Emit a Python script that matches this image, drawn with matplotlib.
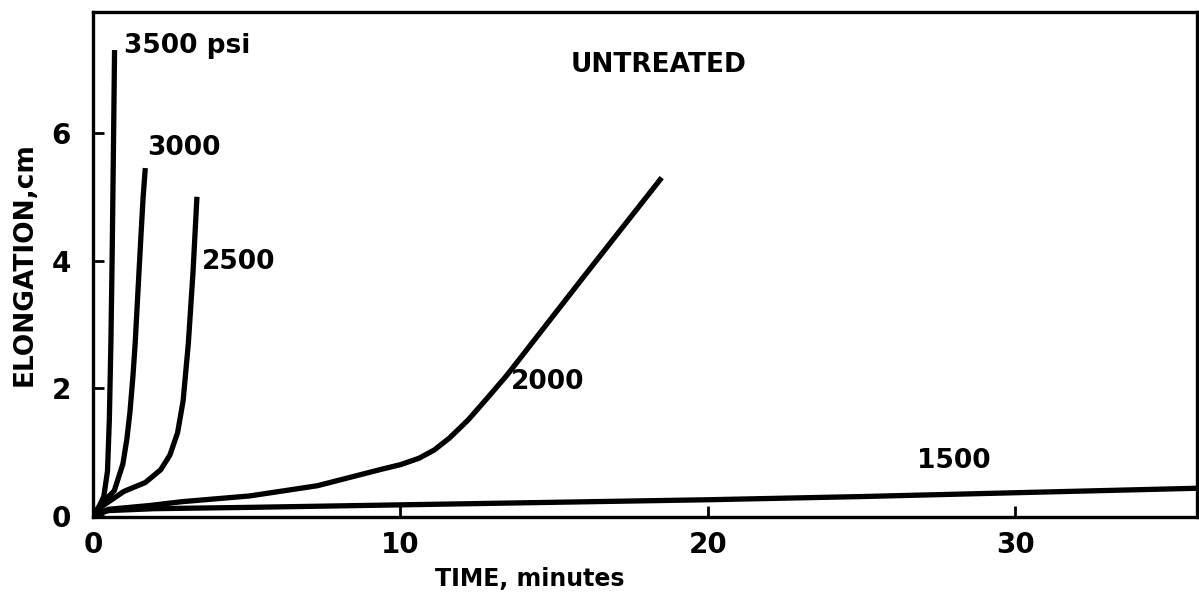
import matplotlib
matplotlib.use("Agg")
import matplotlib.pyplot as plt

# creep curves, untreated specimens (time in minutes, elongation in cm)
t_3500 = [0, 0.2, 0.35, 0.47, 0.53, 0.58, 0.62, 0.66, 0.7]
e_3500 = [0, 0.15, 0.3, 0.7, 1.5, 2.7, 4.0, 5.6, 7.3]

t_3000 = [0, 0.3, 0.69, 0.97, 1.1, 1.2, 1.3, 1.37, 1.47, 1.56, 1.63, 1.7]
e_3000 = [0, 0.2, 0.39, 0.81, 1.2, 1.62, 2.2, 2.7, 3.6, 4.4, 5.0, 5.45]

t_2500 = [0, 0.3, 1.0, 1.7, 2.2, 2.5, 2.75, 2.93, 3.1, 3.25, 3.38]
e_2500 = [0, 0.15, 0.38, 0.52, 0.72, 0.95, 1.3, 1.8, 2.7, 3.8, 5.0]

t_2000 = [0, 0.5, 1.85, 2.9, 5.1, 7.3, 9.4, 10.0, 10.6, 11.1, 11.6, 12.2, 12.8, 13.46, 16.0, 18.5]
e_2000 = [0, 0.1, 0.16, 0.22, 0.31, 0.47, 0.73, 0.8, 0.9, 1.03, 1.22, 1.5, 1.83, 2.2, 3.77, 5.3]

t_1500 = [0, 0.5, 2, 5, 10, 15, 20, 25, 30, 35.9]
e_1500 = [0, 0.08, 0.11, 0.13, 0.17, 0.21, 0.25, 0.3, 0.36, 0.43]

labels = ['3500 psi', '3000', '2500', '2000', '1500']
label_pos = [(1.0, 7.37), (1.75, 5.77), (3.55, 3.98), (13.6, 2.09), (26.8, 0.86)]

x_ticks = [0, 10, 20, 30]
y_ticks = [0, 2, 4, 6]

plt.rcParams['font.family'] = ['DejaVu Sans']
plt.rcParams['font.weight'] = 'bold'

fig = plt.figure(figsize=(11.99, 6.05), dpi=100)
ax = fig.add_axes([0.0776, 0.1455, 0.9204, 0.835])

for t, e in [(t_3500, e_3500), (t_3000, e_3000), (t_2500, e_2500),
             (t_2000, e_2000), (t_1500, e_1500)]:
    ax.plot(t, e, color='black', lw=3.8, solid_capstyle='butt', solid_joinstyle='round')

for txt, (x, y) in zip(labels, label_pos):
    ax.text(x, y, txt, fontsize=19, fontweight='bold', ha='left', va='center')

ax.text(18.4, 7.06, 'UNTREATED', fontsize=19, fontweight='bold', ha='center', va='center')

ax.set_xlim(0, 35.9)
ax.set_ylim(-0.02, 7.9)
ax.set_xticks(x_ticks)
ax.set_yticks(y_ticks)
ax.tick_params(direction='in', length=8, width=2, labelsize=20, pad=10)
ax.tick_params(axis='y', pad=16)
for s in ax.spines.values():
    s.set_linewidth(2.4)

ax.set_xlabel('TIME, minutes', fontsize=17, fontweight='bold', labelpad=6, x=0.396)
ax.set_ylabel('ELONGATION,cm', fontsize=19, fontweight='bold', labelpad=10)

fig.savefig('out.png', dpi=100)
